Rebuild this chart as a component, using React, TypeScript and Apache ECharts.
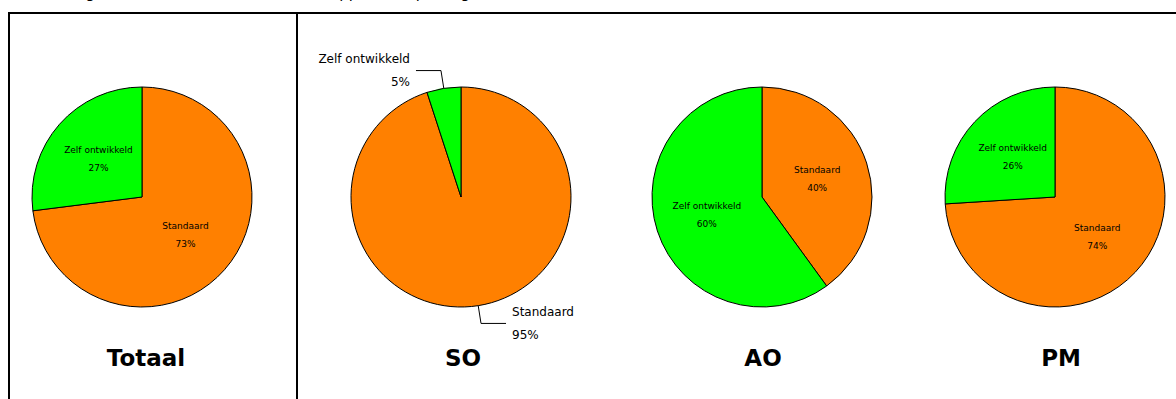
import React, { useEffect, useRef } from "react";
import * as echarts from "echarts";

const groups = ["Totaal", "SO", "AO", "PM"];
const categories = ["Standaard", "Zelf ontwikkeld"];
const standaardValues = [73, 95, 40, 74];
const zelfValues = [27, 5, 60, 26];
const colors = ["#FF8000", "#00FF00"];
const centersX = [142, 461, 762, 1055];
const titleX = [146, 463, 763, 1061];
const outsideLabels = [false, true, false, false];
const pageTitle = "Verhouding standaard en zelf ontwikkelde applicaties per organisatie";

export default function App() {
  const ref = useRef<HTMLDivElement>(null);
  useEffect(() => {
    document.body.style.margin = "0";
    const chart = echarts.init(ref.current!, null, { renderer: "svg" });
    const series: any[] = groups.map((g, i) => {
      const outside = outsideLabels[i];
      return {
        type: "pie",
        name: g,
        center: [centersX[i], 197],
        radius: 110,
        startAngle: 90,
        clockwise: true,
        avoidLabelOverlap: false,
        itemStyle: { borderColor: "#000", borderWidth: 1 },
        emphasis: { disabled: true },
        label: outside
          ? {
              show: true,
              position: "outside",
              formatter: "{b}\n{c}%",
              fontFamily: "DejaVu Sans",
              fontSize: 12,
              lineHeight: 23,
              color: "#000",
              distanceToLabelLine: 6,
            }
          : {
              show: true,
              position: "inside",
              formatter: "{b}\n{c}%",
              fontFamily: "DejaVu Sans",
              fontSize: 9,
              lineHeight: 18,
              color: "#000",
            },
        labelLine: outside
          ? { show: true, length: 18, length2: 25, lineStyle: { color: "#000", width: 1 } }
          : { show: false },
        data: [
          { name: categories[0], value: standaardValues[i], itemStyle: { color: colors[0] } },
          { name: categories[1], value: zelfValues[i], itemStyle: { color: colors[1] } },
        ],
      };
    });
    const graphic: any[] = [
      { type: "line", shape: { x1: 9, y1: 13, x2: 1180, y2: 13 }, style: { stroke: "#000", lineWidth: 2 } },
      { type: "line", shape: { x1: 9, y1: 12, x2: 9, y2: 410 }, style: { stroke: "#000", lineWidth: 2 } },
      { type: "line", shape: { x1: 297, y1: 12, x2: 297, y2: 410 }, style: { stroke: "#000", lineWidth: 2 } },
      {
        type: "text",
        x: 10,
        y: -15,
        style: { text: pageTitle, fontFamily: "DejaVu Sans", fontSize: 15, fill: "#000" },
      },
    ];
    groups.forEach((g, i) => {
      graphic.push({
        type: "text",
        x: titleX[i],
        y: 358,
        style: {
          text: g,
          fontFamily: "DejaVu Sans",
          fontWeight: "bold",
          fontSize: 23,
          fill: "#000",
          textAlign: "center",
          textVerticalAlign: "middle",
        },
      });
    });
    chart.setOption({
      animation: false,
      backgroundColor: "#fff",
      series,
      graphic,
    });
    return () => chart.dispose();
  }, []);
  return <div ref={ref} style={{ width: 1176, height: 399 }} />;
}
